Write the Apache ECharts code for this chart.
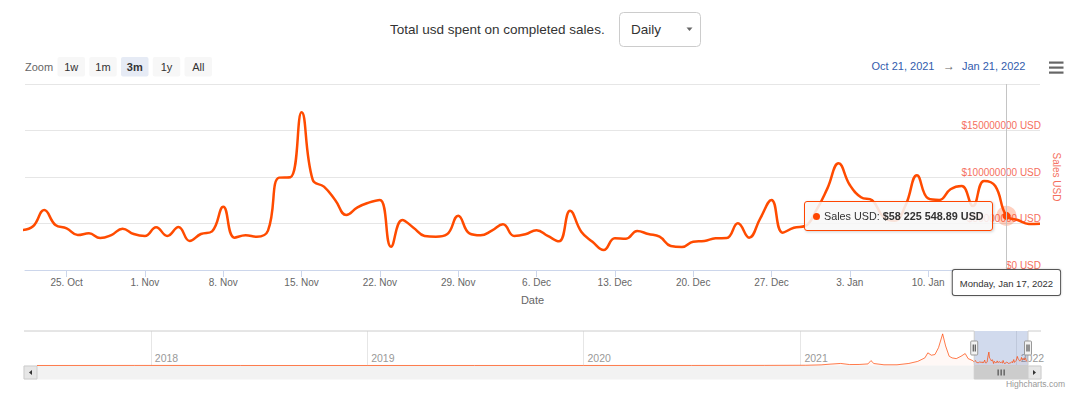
<!DOCTYPE html>
<html>
<head>
<meta charset="utf-8">
<script src="https://cdn.jsdelivr.net/npm/echarts@6/dist/echarts.min.js"></script>
<style>
html,body{margin:0;padding:0;background:#ffffff;}
#chart{width:1080px;height:394px;}
</style>
</head>
<body>
<div id="chart"></div>
<script>
// ---------------- data ----------------
const FIRST_DAY = '2021-10-21';           // first daily value
const SALES_USD = [
  43000000, 47000000, 64500000, 48400000, 44800000, 37600000, 39400000, 34400000,
  37600000, 44400000, 38700000, 36600000, 45900000, 36600000, 46200000, 31200000,
  38700000, 41600000, 68000000, 34800000, 37300000, 35800000, 42300000, 99300000,
  99700000, 169500000, 96800000, 89600000, 75300000, 59100000, 67400000, 72400000,
  75300000, 25000000, 53800000, 45500000, 36600000, 35800000, 38400000, 58400000,
  39400000, 37300000, 42300000, 49100000, 36600000, 38400000, 42700000, 36600000,
  30800000, 63800000, 41200000, 30400000, 21500000, 34100000, 33700000, 41900000,
  38700000, 35800000, 25800000, 24700000, 30400000, 31200000, 34100000, 34400000,
  50200000, 34800000, 55600000, 75300000, 40100000, 45500000, 47300000, 64000000,
  87800000, 114700000, 91400000, 78200000, 75000000, 57000000, 53000000, 70000000,
  102000000, 77000000, 75300000, 86800000, 90300000, 68800000, 95700000, 90300000,
  58225548.89, 53800000, 49500000, 49800000
];
const VIEW_START = '2021-10-21T06:45:00Z';
const VIEW_END   = '2022-01-20T00:00:00Z';
const X_TICKS = ['2021-10-25','2021-11-01','2021-11-08','2021-11-15','2021-11-22','2021-11-29',
  '2021-12-06','2021-12-13','2021-12-20','2021-12-27','2022-01-03','2022-01-10','2022-01-17'];
const X_LABELS = ['2021-10-25','2021-11-01','2021-11-08','2021-11-15','2021-11-22','2021-11-29',
  '2021-12-06','2021-12-13','2021-12-20','2021-12-27','2022-01-03','2022-01-10'];
const Y_MAX = 200000000;
const Y_STEP = 50000000;
const TOOLTIP_DAY = '2022-01-17';

// navigator (overview of the full history)
const NAV_START = '2017-06-23';
const NAV_HISTORY_DATES = ['2017-06-23','2017-12-05','2018-06-01','2019-01-01','2019-07-01','2020-01-01',
  '2020-07-01','2020-11-01','2021-01-10','2021-02-05','2021-02-20','2021-03-10','2021-03-25','2021-04-10',
  '2021-04-25','2021-04-30','2021-05-05','2021-05-22','2021-06-13','2021-07-03','2021-07-18','2021-07-30',
  '2021-08-04','2021-08-10','2021-08-16','2021-08-22','2021-08-29','2021-09-03','2021-09-09','2021-09-14',
  '2021-09-21','2021-09-29','2021-10-06','2021-10-11','2021-10-19'];
const NAV_HISTORY_USD = [50000, 800000, 200000, 150000, 250000, 300000,
  600000, 1500000, 3000000, 8000000, 17000000, 26000000, 12000000, 13000000,
  20000000, 62000000, 25000000, 9000000, 9000000, 26000000, 52000000, 96000000,
  160000000, 130000000, 139000000, 225000000, 400000000, 247000000, 117000000, 96000000,
  87000000, 117000000, 151000000, 87000000, 61000000];
const YEAR_TICKS = ['2018-01-01','2019-01-01','2020-01-01','2021-01-01','2022-01-01'];

// header texts
const TITLE = 'Total usd spent on completed sales.';
const PERIOD = 'Daily';
const RANGE_BUTTONS = ['1w','1m','3m','1y','All'];
const SELECTED_BUTTON = '3m';
const RANGE_LABELS = ['Oct 21, 2021', '→', 'Jan 21, 2022'];
const CREDIT = 'Highcharts.com';

const MONTHS = ['Jan','Feb','Mar','Apr','May','Jun','Jul','Aug','Sep','Oct','Nov','Dec'];
const WEEKDAYS = ['Sunday','Monday','Tuesday','Wednesday','Thursday','Friday','Saturday'];

// ---------------- helpers ----------------
const DAY = 86400000;
const FONT = '"Liberation Sans", Arial, Helvetica, sans-serif';
const RED = '#ff4500';
const LABEL_RED = '#f56f5e';
const ts = s => Date.parse(s.length === 10 ? s + 'T00:00:00Z' : s);
const shortDate = v => { const d = new Date(v); return d.getUTCDate() + '. ' + MONTHS[d.getUTCMonth()]; };
const longDate = v => { const d = new Date(Math.round(v / DAY) * DAY);
  return WEEKDAYS[d.getUTCDay()] + ', ' + MONTHS[d.getUTCMonth()] + ' ' + d.getUTCDate() + ', ' + d.getUTCFullYear(); };
const spaced = v => { const p = Number(v).toFixed(2).split('.');
  return p[0].replace(/\B(?=(\d{3})+(?!\d))/g, ' ') + '.' + p[1]; };

const mainData = SALES_USD.map((v, i) => [ts(FIRST_DAY) + i * DAY, v]);
const navData = NAV_HISTORY_DATES.map((d, i) => [ts(d), NAV_HISTORY_USD[i]]).concat(mainData);
const tipIndex = mainData.findIndex(p => p[0] === ts(TOOLTIP_DAY));

// ---------------- chart ----------------
const chart = echarts.init(document.getElementById('chart'), null, {renderer: 'svg'});

const option = {
  animation: false,
  textStyle: {fontFamily: FONT},
  grid: [
    {left: 25, right: 40, top: 84, bottom: 124},
    {left: 37, right: 52, top: 331, bottom: 28.5}
  ],
  xAxis: [{
    type: 'value', gridIndex: 0, min: ts(VIEW_START), max: ts(VIEW_END),
    name: 'Date', nameLocation: 'middle', nameGap: 24,
    nameTextStyle: {color: '#666666', fontSize: 11, fontFamily: FONT},
    axisLine: {lineStyle: {color: '#ccd6eb'}},
    axisTick: {show: true, length: 7, lineStyle: {color: '#ccd6eb'}, customValues: X_TICKS.map(ts)},
    axisLabel: {customValues: X_LABELS.map(ts), formatter: shortDate, color: '#666666', fontSize: 10, margin: 7, fontFamily: FONT},
    splitLine: {show: false},
    axisPointer: {
      show: true, type: 'line', lineStyle: {color: '#c4c4c4', width: 1, type: 'solid'},
      label: {show: true, formatter: p => longDate(p.value), backgroundColor: '#ffffff',
        borderColor: '#555555', borderWidth: 1, borderRadius: 2, color: '#333333', fontSize: 9.5,
        fontFamily: FONT, padding: [8, 7, 7, 7], margin: 0, shadowBlur: 2, shadowColor: 'rgba(0,0,0,0.2)'}
    }
  }, {
    type: 'value', gridIndex: 1, min: ts(NAV_START), max: ts(VIEW_END),
    axisLine: {show: false},
    axisTick: {show: false, customValues: YEAR_TICKS.map(ts)},
    axisLabel: {customValues: YEAR_TICKS.map(ts), inside: true, margin: 2, align: 'left',
      verticalAlign: 'bottom', padding: [0, 0, 0, 4], color: '#999999', fontSize: 10.5, fontFamily: FONT,
      formatter: v => String(new Date(v).getUTCFullYear())},
    splitLine: {show: true, lineStyle: {color: '#e6e6e6'}},
    axisPointer: {show: false}
  }],
  yAxis: [{
    type: 'value', gridIndex: 0, position: 'right', min: 0, max: Y_MAX, interval: Y_STEP,
    name: 'Sales USD', nameLocation: 'middle', nameRotate: -90, nameGap: 9,
    nameTextStyle: {color: LABEL_RED, fontSize: 10, fontFamily: FONT},
    axisLine: {show: false}, axisTick: {show: false},
    axisLabel: {inside: true, margin: -1, showMaxLabel: false, color: LABEL_RED, fontSize: 10,
      fontFamily: FONT, verticalAlign: 'bottom', formatter: v => '$' + v + ' USD'},
    splitLine: {lineStyle: {color: '#e6e6e6'}},
    axisPointer: {show: false}
  }, {
    type: 'value', gridIndex: 1, min: 0, max: e => e.max * 1.09, show: false,
    axisPointer: {show: false}
  }],
  tooltip: {
    trigger: 'axis', triggerOn: 'none', alwaysShowContent: true,
    axisPointer: {type: 'line', lineStyle: {type: 'solid', color: '#c4c4c4', width: 1}},
    backgroundColor: 'rgba(247,247,247,0.88)', borderColor: RED, borderWidth: 1, borderRadius: 3,
    padding: [7, 8],
    textStyle: {fontFamily: FONT, fontSize: 10.8, color: '#333333'},
    extraCssText: 'box-shadow:1px 1px 3px rgba(0,0,0,0.18);line-height:14px;',
    position: (point, params, dom, rect, size) =>
      [point[0] - size.contentSize[0] - 13, point[1] - size.contentSize[1] / 2],
    formatter: params => {
      const p = params.find(q => q.seriesIndex === 0) || params[0];
      return '<span style="display:inline-block;width:7px;height:7px;border-radius:50%;background:' + RED +
        ';margin-right:4px;vertical-align:0px"></span>' + p.seriesName + ': <b>$' + spaced(p.value[1]) + ' USD</b>';
    }
  },
  series: [{
    name: 'Sales USD', type: 'line', xAxisIndex: 0, yAxisIndex: 0, data: mainData,
    smooth: 0.45, showSymbol: false, symbol: 'circle', symbolSize: 8,
    lineStyle: {color: RED, width: 2.5},
    itemStyle: {color: RED, borderWidth: 0},
    emphasis: {scale: false, lineStyle: {width: 2.5},
      itemStyle: {color: RED, borderColor: 'rgba(255,69,0,0.25)', borderWidth: 12}},
    z: 3
  }, {
    name: 'Navigator', type: 'line', xAxisIndex: 1, yAxisIndex: 1, data: navData,
    showSymbol: false, silent: true, tooltip: {show: false},
    lineStyle: {color: RED, width: 1, opacity: 0.7},
    areaStyle: {color: 'rgba(255,69,0,0.05)'},
    emphasis: {disabled: true},
    markArea: {silent: true, itemStyle: {color: 'rgba(102,133,194,0.3)'},
      data: [[{xAxis: ts(VIEW_START)}, {xAxis: ts(VIEW_END)}]]}
  }]
};
chart.setOption(option);

// ---------------- UI decorations (range selector, navigator handles, scrollbar) ----------------
const NAV_TOP = 331, NAV_BOTTOM = 365.5, BAR_Y = 366, BAR_H = 13, BAR_L = 24, BAR_R = 1041;
const xL = chart.convertToPixel({xAxisIndex: 1}, ts(VIEW_START));
const xR = chart.convertToPixel({xAxisIndex: 1}, ts(VIEW_END));

const g = [];
const txt = (x, y, text, size, fill, align, weight) => g.push({type: 'text', x, y, silent: true,
  style: {text, fill, font: (weight || 'normal') + ' ' + size + 'px ' + FONT, align: align || 'left', verticalAlign: 'middle'}});

// title + period select
txt(390, 29.5, TITLE, 13.5, '#333333');
g.push({type: 'rect', silent: true, shape: {x: 619.5, y: 12.5, width: 81, height: 34, r: 4},
  style: {fill: '#ffffff', stroke: '#cccccc', lineWidth: 1}});
txt(631, 29.5, PERIOD, 13.5, '#333333');
g.push({type: 'polygon', silent: true, shape: {points: [[686.5, 27.5], [692.5, 27.5], [689.5, 31]]}, style: {fill: '#666666'}});

// zoom buttons
txt(25, 66.5, 'Zoom', 11, '#666666');
RANGE_BUTTONS.forEach((b, k) => {
  const bx = 57.5 + k * 31.75, sel = b === SELECTED_BUTTON;
  g.push({type: 'rect', silent: true, shape: {x: bx, y: 57, width: 27.5, height: 19.5, r: 2},
    style: {fill: sel ? '#e6ebf5' : '#f7f7f7'}});
  txt(bx + 13.75, 66.8, b, 11, '#333333', 'center', sel ? 'bold' : 'normal');
});

// date range
txt(934.5, 65.5, RANGE_LABELS[0], 11, '#335cad', 'right');
txt(949, 65.5, RANGE_LABELS[1], 12, '#666666', 'center');
txt(1025.5, 65.5, RANGE_LABELS[2], 11, '#335cad', 'right');

// export menu icon
[61.5, 66.5, 71.5].forEach(y => g.push({type: 'rect', silent: true,
  shape: {x: 1049, y, width: 14.5, height: 2.2}, style: {fill: '#666666'}}));

// navigator outline
g.push({type: 'polyline', silent: true, z: 10,
  shape: {points: [[BAR_L, NAV_TOP], [xL, NAV_TOP], [xL, NAV_BOTTOM], [xR, NAV_BOTTOM], [xR, NAV_TOP], [BAR_R, NAV_TOP]]},
  style: {stroke: '#cccccc', lineWidth: 1, fill: null}});

// scrollbar
g.push({type: 'rect', silent: true, shape: {x: BAR_L, y: BAR_Y, width: BAR_R - BAR_L, height: BAR_H},
  style: {fill: '#f2f2f2', stroke: '#f2f2f2'}});
g.push({type: 'rect', silent: true, shape: {x: xL, y: BAR_Y, width: xR - xL, height: BAR_H},
  style: {fill: '#cccccc', stroke: '#cccccc'}});
const midT = (xL + xR) / 2;
[-3, 0, 3].forEach(o => g.push({type: 'line', silent: true,
  shape: {x1: midT + o, y1: BAR_Y + 3.5, x2: midT + o, y2: BAR_Y + 9.5}, style: {stroke: '#333333', lineWidth: 1}}));
[[BAR_L, -1], [BAR_R - BAR_H, 1]].forEach(([bx, dir]) => {
  g.push({type: 'rect', silent: true, shape: {x: bx, y: BAR_Y, width: BAR_H, height: BAR_H},
    style: {fill: '#e6e6e6', stroke: '#cccccc', lineWidth: 1}});
  const cx = bx + BAR_H / 2, cy = BAR_Y + BAR_H / 2;
  g.push({type: 'polygon', silent: true,
    shape: {points: [[cx + 1.5 * dir, cy], [cx - 1.5 * dir, cy - 2.5], [cx - 1.5 * dir, cy + 2.5]]},
    style: {fill: '#333333'}});
});

// navigator handles
[xL, xR].forEach(hx => {
  g.push({type: 'rect', silent: true, z: 11, shape: {x: hx - 3.5, y: 341, width: 7, height: 14, r: 1},
    style: {fill: '#f2f2f2', stroke: '#999999', lineWidth: 1}});
  [-1, 1].forEach(o => g.push({type: 'line', silent: true, z: 12,
    shape: {x1: hx + o, y1: 344.5, x2: hx + o, y2: 351.5}, style: {stroke: '#333333', lineWidth: 1}}));
});

// credits
txt(1065, 384, CREDIT, 8.5, '#999999', 'right');

chart.setOption({graphic: {elements: g}});

chart.dispatchAction({type: 'showTip', seriesIndex: 0, dataIndex: tipIndex});
</script>
</body>
</html>
